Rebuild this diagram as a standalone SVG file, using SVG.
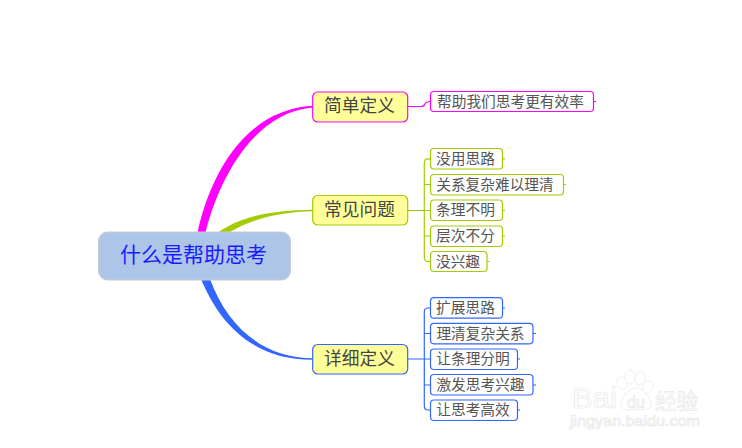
<svg xmlns="http://www.w3.org/2000/svg" width="742" height="448" viewBox="0 0 742 448">
<style>
text{font-family:"Noto Sans CJK SC","Noto Sans",sans-serif;text-anchor:middle;dominant-baseline:central}
.sub rect{fill:#fff;stroke-width:1.2}
.sub text{font-size:14.7px;fill:#555}
.topic rect{fill:#ffff99;stroke-width:1.2}
.topic text{font-size:17.7px;fill:#444}
.line{fill:none;stroke-width:1.2}
.m{stroke:#ff00ff}.g{stroke:#a2cc00}.b{stroke:#3366ff}
.wm{fill:#fff;stroke:#efefef;stroke-width:1}
.wmt{fill:#fff;stroke:#e8e8e8;stroke-width:.7;font-family:"Liberation Sans",sans-serif}
</style>
<rect width="742" height="448" fill="#fff"/>
<g id="watermark">
<ellipse class="wm" cx="622" cy="383" rx="5" ry="6.500" transform="rotate(-25 622 383)"/>
<ellipse class="wm" cx="630" cy="377" rx="5" ry="7"/>
<ellipse class="wm" cx="640" cy="378" rx="5" ry="7" transform="rotate(8 640 378)"/>
<ellipse class="wm" cx="648" cy="387" rx="5" ry="6.500" transform="rotate(25 648 387)"/>
<path class="wm" d="M636 388C645 388 650 398 651 403C652 410 644 411 636 409C628 411 620 410 621 403C622 398 627 388 636 388Z"/>
<text class="wmt" x="594.500" y="398" font-size="29" textLength="45" lengthAdjust="spacingAndGlyphs">Bai</text>
<text class="wmt" x="636" y="402" font-size="16" textLength="18" lengthAdjust="spacingAndGlyphs">du</text>
<text class="wmt" style="font-family:'Noto Sans CJK SC',sans-serif" x="676.500" y="399" font-size="21.500">经验</text>
<text class="wmt" x="635" y="421" font-size="14.500" textLength="130" lengthAdjust="spacingAndGlyphs">jingyan.baidu.com</text>
</g>
<g id="connectors">
<path fill="#ff00ff" d="M197.500 233C205 196 234 110 313 105.800L313 107.500C246 113 214 196 205.500 233Z"/>
<path fill="#a2cc00" d="M217.500 233C240 217 270 210 313 209.700L313 211.200C280 212 254 218 228 233Z"/>
<path fill="#3366ff" d="M201 279C218 320 250 360 313 359.800L313 358.200C264 358 228 328 210 279Z"/>
<path class="line m" d="M408 106.500H421Q424 106.500 425 104Q426 101.500 430 101.500"/>
<path class="line m" d="M593.500 101.500H596"/>
<path class="line g" d="M408 210.500H430M430.500 158.800H428Q424.300 158.800 424.300 163V257Q424.300 261.500 428 261.500H430.500M424.300 184.500H430.500M424.300 236H430.500"/>
<path class="line g" d="M502.500 158.800H505M564 184.500H566M502.500 210.500H505M502.500 236H505M487 261.500H489.500"/>
<path class="line b" d="M408 359H430M430.500 308H428Q424.300 308 424.300 312V406Q424.300 410 428 410H430.500M424.300 333.500H430.500M424.300 385H430.500"/>
<path class="line b" d="M502.500 308H505M533 333.500H536M517.500 359H520M533 385H536M517.500 410H520"/>
</g>
<g id="root"><rect x="98.500" y="232" width="192" height="48" rx="9" fill="#adc5e7" stroke="#c8ccd2"/><text x="193.500" y="252.500" font-size="21px" fill="#1a1aff">什么是帮助思考</text></g>
<g id="topic1" class="topic"><rect class="m" x="312.700" y="92" width="95" height="30" rx="5"/><text x="359.500" y="104">简单定义</text></g>
<g id="topic2" class="topic"><rect class="g" x="312.700" y="195.500" width="95" height="29.500" rx="5"/><text x="359.500" y="207.500">常见问题</text></g>
<g id="topic3" class="topic"><rect class="b" x="312.700" y="344.500" width="95" height="29.500" rx="5"/><text x="359.500" y="356.500">详细定义</text></g>
<g id="n1" class="sub"><rect class="m" x="430.500" y="91.500" width="163" height="20" rx="3.500"/><text x="510.500" y="100">帮助我们思考更有效率</text></g>
<g id="n2" class="sub"><rect class="g" x="430.500" y="148.500" width="72" height="20.500" rx="3.500"/><text x="465.500" y="157">没用思路</text></g>
<g id="n3" class="sub"><rect class="g" x="430.500" y="174.500" width="133" height="20.500" rx="3.500"/><text x="495" y="183">关系复杂难以理清</text></g>
<g id="n4" class="sub"><rect class="g" x="430.500" y="200" width="72" height="20.500" rx="3.500"/><text x="465.500" y="208.500">条理不明</text></g>
<g id="n5" class="sub"><rect class="g" x="430.500" y="226" width="72" height="20.500" rx="3.500"/><text x="465.500" y="234.500">层次不分</text></g>
<g id="n6" class="sub"><rect class="g" x="430.500" y="251.500" width="56.500" height="20" rx="3.500"/><text x="458" y="260">没兴趣</text></g>
<g id="n7" class="sub"><rect class="b" x="430.500" y="297.700" width="72" height="20.500" rx="3.500"/><text x="465.500" y="306.500">扩展思路</text></g>
<g id="n8" class="sub"><rect class="b" x="430.500" y="323.300" width="102.500" height="20.500" rx="3.500"/><text x="480.500" y="332">理清复杂关系</text></g>
<g id="n9" class="sub"><rect class="b" x="430.500" y="349" width="87" height="20.500" rx="3.500"/><text x="473" y="357.500">让条理分明</text></g>
<g id="n10" class="sub"><rect class="b" x="430.500" y="374.500" width="102.500" height="20.500" rx="3.500"/><text x="480.500" y="383">激发思考兴趣</text></g>
<g id="n11" class="sub"><rect class="b" x="430.500" y="400" width="87" height="20.500" rx="3.500"/><text x="473" y="408.500">让思考高效</text></g>
</svg>
